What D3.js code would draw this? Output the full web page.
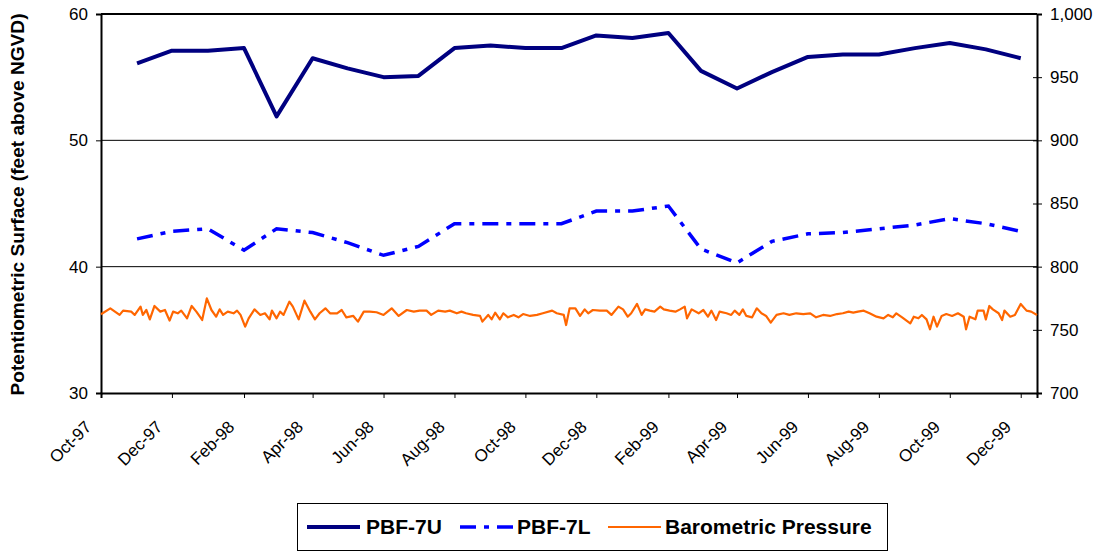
<!DOCTYPE html>
<html>
<head>
    <meta charset="utf-8">
    <title>Potentiometric Surface PBF-7</title>
    <script type="text/javascript" src="https://cdn.jsdelivr.net/npm/d3@7"></script>
    <style type="text/css">
        body { margin: 0; background: #fff; }
        svg { display: block; font-family: "Liberation Sans", Arial, sans-serif; }
        .axis text { font-size: 17px; fill: #000; }
        .axis path, .axis line { stroke: #000; }
        .grid { stroke: #000; stroke-width: 1; }
        .legend text { font-size: 21px; font-weight: bold; }
    </style>
</head>
<body>
<script type="text/javascript">
    // monthly water levels, feet above NGVD
    var wellDates = ["1997-11-01", "1997-12-01", "1998-01-01", "1998-02-01", "1998-03-01", "1998-04-01",
        "1998-05-01", "1998-06-01", "1998-07-01", "1998-08-01", "1998-09-01", "1998-10-01",
        "1998-11-01", "1998-12-01", "1999-01-01", "1999-02-01", "1999-03-01", "1999-04-01",
        "1999-05-01", "1999-06-01", "1999-07-01", "1999-08-01", "1999-09-01", "1999-10-01",
        "1999-11-01", "1999-12-01"];
    var pbf7U = [56.1, 57.1, 57.1, 57.3, 51.9, 56.5, 55.7, 55.0, 55.1, 57.3, 57.5, 57.3, 57.3,
        58.3, 58.1, 58.5, 55.5, 54.1, 55.4, 56.6, 56.8, 56.8, 57.3, 57.7, 57.2, 56.5];
    var pbf7L = [42.2, 42.8, 43.0, 41.3, 43.0, 42.7, 41.9, 40.9, 41.6, 43.4, 43.4, 43.4, 43.4,
        44.4, 44.4, 44.8, 41.4, 40.3, 42.0, 42.6, 42.7, 43.0, 43.3, 43.8, 43.4, 42.8];

    // barometric pressure: days after 1 Oct 1997 and value (right axis)
    var baroDay = [0, 8, 16, 19, 26, 29, 34, 36, 39, 42, 46, 51, 55, 59, 62, 66, 69, 74, 78, 82,
        87, 91, 95, 99, 102, 105, 109, 114, 117, 120, 124, 127, 132, 137, 141, 145, 147, 151, 154, 157,
        162, 165, 170, 175, 180, 184, 188, 193, 197, 203, 207, 211, 217, 221, 226, 231, 237, 243, 250, 256,
        263, 269, 274, 280, 284, 290, 296, 300, 306, 310, 314, 320, 326, 328, 333, 336, 339, 343, 346, 350,
        355, 359, 363, 369, 375, 380, 388, 392, 398, 400, 403, 408, 412, 416, 419, 423, 429, 435, 439, 445,
        449, 453, 456, 461, 465, 468, 472, 476, 481, 484, 489, 494, 498, 502, 504, 508, 514, 518, 522, 525,
        529, 532, 538, 542, 545, 549, 552, 555, 560, 564, 568, 572, 576, 581, 587, 592, 598, 604, 610, 615,
        621, 627, 633, 638, 643, 647, 651, 656, 661, 667, 673, 677, 681, 684, 689, 696, 699, 703, 706, 710,
        713, 716, 719, 723, 727, 732, 737, 742, 744, 747, 752, 754, 759, 761, 764, 767, 772, 775, 777, 782,
        786, 791, 796, 800, 805];
    var baroMb = [762.3, 767.0, 761.8, 765.2, 764.4, 761.8, 768.4, 761.8, 765.7, 758.3, 768.9, 764.4, 765.7, 757.3, 764.4, 763.1, 765.2, 759.1, 768.9, 764.4,
        757.8, 774.9, 765.7, 760.4, 766.2, 761.8, 764.4, 763.1, 765.2, 761.8, 752.5, 759.1, 766.2, 761.8, 763.1, 758.3, 765.2, 759.1, 764.4, 761.8,
        772.3, 768.4, 758.3, 773.1, 764.4, 758.3, 763.1, 767.0, 763.1, 763.1, 765.7, 759.9, 761.0, 756.5, 764.4, 764.4, 763.9, 761.8, 767.0, 761.0,
        765.7, 764.4, 765.2, 765.2, 761.8, 765.2, 764.4, 765.2, 763.1, 764.4, 763.1, 761.8, 761.0, 756.5, 761.8, 758.3, 763.6, 758.3, 763.1, 759.9,
        761.8, 759.9, 762.5, 761.0, 761.8, 763.1, 765.2, 763.1, 761.8, 753.8, 767.0, 767.0, 761.0, 766.2, 763.1, 765.7, 765.2, 765.2, 761.8, 768.4,
        766.2, 760.4, 763.1, 770.5, 761.8, 766.2, 765.2, 764.4, 768.4, 766.2, 765.2, 764.4, 766.2, 768.4, 759.1, 766.2, 763.1, 765.7, 760.4, 765.2,
        757.8, 764.4, 763.1, 761.8, 765.2, 761.8, 766.2, 761.0, 759.9, 767.0, 763.1, 761.0, 755.7, 761.8, 763.1, 761.8, 763.1, 762.5, 763.1, 759.9,
        761.8, 761.0, 762.5, 763.1, 764.4, 763.6, 764.4, 765.2, 763.1, 760.4, 759.1, 761.8, 759.9, 763.1, 759.9, 755.1, 760.4, 759.1, 761.8, 758.3,
        750.4, 760.4, 752.5, 761.0, 762.5, 761.0, 763.1, 760.4, 750.4, 760.4, 758.3, 765.2, 765.2, 758.3, 768.9, 766.2, 763.1, 757.8, 765.2, 760.4,
        761.8, 770.5, 765.2, 764.4, 761.8];

    var tickDates = ["1997-10-01", "1997-12-01", "1998-02-01", "1998-04-01", "1998-06-01", "1998-08-01",
        "1998-10-01", "1998-12-01", "1999-02-01", "1999-04-01", "1999-06-01", "1999-08-01",
        "1999-10-01", "1999-12-01"];
    var leftTicks = [30, 40, 50, 60];
    var rightTicks = [700, 750, 800, 850, 900, 950, 1000];

    var w = 1104, h = 554;
    var mLeft = 101, mRight = 1037, mTop = 14, mBottom = 393;

    var parse = d3.utcParse("%Y-%m-%d");
    var start = parse("1997-10-01");

    var x = d3.scaleUtc()
            .domain([start, d3.utcDay.offset(start, 805)])
            .range([mLeft, mRight]);
    var y = d3.scaleLinear().domain([30, 60]).range([mBottom, mTop]);
    var y2 = d3.scaleLinear().domain([700, 1000]).range([mBottom, mTop]);

    var svg = d3.select("body").append("svg")
            .attr("width", w)
            .attr("height", h);

    // gridlines
    svg.selectAll("line.grid")
            .data([40, 50])
        .enter().append("line")
            .attr("class", "grid")
            .attr("x1", mLeft).attr("x2", mRight)
            .attr("y1", function (d) {return y(d);})
            .attr("y2", function (d) {return y(d);});

    svg.append("line")
            .attr("x1", mLeft).attr("x2", mRight)
            .attr("y1", y(60)).attr("y2", y(60))
            .attr("stroke", "#000").attr("stroke-width", 2);

    // axes
    svg.append("g")
            .attr("class", "axis")
            .attr("transform", "translate(" + mLeft + ",0)")
            .call(d3.axisLeft(y).tickValues(leftTicks).tickSizeOuter(0).tickSize(5).tickPadding(8))
            .call(function (g) {
                g.select(".domain").attr("stroke-width", 2);
            });

    svg.append("g")
            .attr("class", "axis")
            .attr("transform", "translate(" + mRight + ",0)")
            .call(d3.axisRight(y2).tickValues(rightTicks).tickFormat(d3.format(","))
                    .tickSizeOuter(0).tickSize(5).tickPadding(8))
            .call(function (g) {
                g.select(".domain").attr("stroke-width", 2);
                g.selectAll(".tick line").attr("x1", -4);
            });

    svg.append("g")
            .attr("class", "axis")
            .attr("transform", "translate(0," + mBottom + ")")
            .call(d3.axisBottom(x).tickValues(tickDates.map(parse))
                    .tickFormat(d3.utcFormat("%b-%y")).tickSizeOuter(0).tickSize(5))
            .call(function (g) {
                g.select(".domain").attr("stroke-width", 2);
                g.selectAll(".tick text")
                        .attr("text-anchor", "end")
                        .attr("x", 0).attr("y", 0).attr("dy", 0)
                        .attr("transform", "translate(-9,35) rotate(-45)");
            });

    // y title
    svg.append("text")
            .attr("transform", "translate(24," + ((mTop + mBottom) / 2 + 1) + ") rotate(-90)")
            .attr("text-anchor", "middle")
            .attr("textLength", 382)
            .attr("lengthAdjust", "spacingAndGlyphs")
            .style("font-size", "17.5px")
            .style("font-weight", "bold")
            .text("Potentiometric Surface (feet above NGVD)");

    // series
    var wellLine = d3.line()
            .x(function (d) {return x(parse(d[0]));})
            .y(function (d) {return y(d[1]);});

    var baroLine = d3.line()
            .x(function (d) {return x(d3.utcDay.offset(start, d[0]));})
            .y(function (d) {return y2(d[1]);});

    svg.append("path")
            .datum(d3.zip(baroDay, baroMb))
            .attr("d", baroLine)
            .attr("fill", "none")
            .attr("stroke", "#FF6600")
            .attr("stroke-width", 2.2)
            .attr("stroke-linejoin", "round");

    svg.append("path")
            .datum(d3.zip(wellDates, pbf7L))
            .attr("d", wellLine)
            .attr("fill", "none")
            .attr("stroke", "#0000FF")
            .attr("stroke-width", 3.5)
            .attr("stroke-dasharray", "16,8,5,8");

    svg.append("path")
            .datum(d3.zip(wellDates, pbf7U))
            .attr("d", wellLine)
            .attr("fill", "none")
            .attr("stroke", "#000080")
            .attr("stroke-width", 4)
            .attr("stroke-linejoin", "round");

    // legend
    var legend = svg.append("g").attr("class", "legend");
    legend.append("rect")
            .attr("x", 297.5).attr("y", 503.5)
            .attr("width", 590).attr("height", 47)
            .attr("fill", "#fff").attr("stroke", "#000");

    var items = [
        {name: "PBF-7U", color: "#000080", width: 4, dash: null, x: 307, tx: 366},
        {name: "PBF-7L", color: "#0000FF", width: 3.5, dash: "16,8,5,8", x: 460, tx: 517},
        {name: "Barometric Pressure", color: "#FF6600", width: 2.2, dash: null, x: 608, tx: 665}
    ];
    items.forEach(function (d) {
        legend.append("line")
                .attr("x1", d.x).attr("x2", d.x + 53)
                .attr("y1", 527).attr("y2", 527)
                .attr("stroke", d.color)
                .attr("stroke-width", d.width)
                .attr("stroke-dasharray", d.dash);
        legend.append("text")
                .attr("x", d.tx).attr("y", 527)
                .attr("dy", "0.35em")
                .text(d.name);
    });
</script>
</body>
</html>
